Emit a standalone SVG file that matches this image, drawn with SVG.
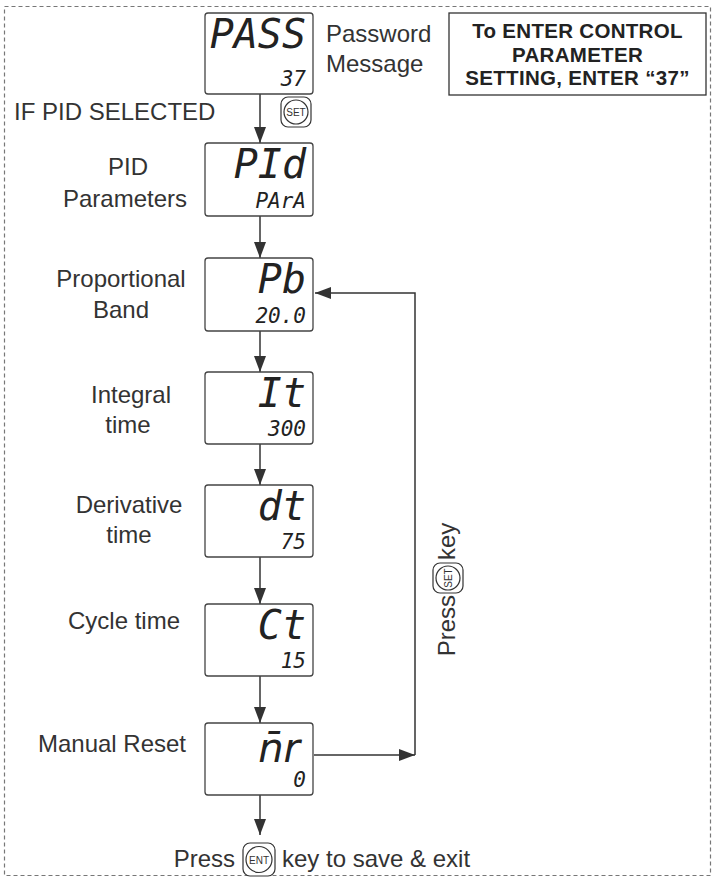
<svg xmlns="http://www.w3.org/2000/svg" width="715" height="879" viewBox="0 0 715 879">
<defs>
<marker id="ah" viewBox="0 0 16 12" refX="16" refY="6" markerWidth="16" markerHeight="12" markerUnits="userSpaceOnUse" orient="auto">
<path d="M0,0 L16,6 L0,12 Z" fill="#333"/>
</marker>
</defs>
<style>
.lbl{font-family:"Liberation Sans",Arial,sans-serif;font-size:24px;fill:#333;text-anchor:middle}
.box{fill:#fff;stroke:#444;stroke-width:1.3}
.seg{font-family:"DejaVu Sans Mono",monospace;fill:#222;text-anchor:end;font-style:oblique}
.big{font-size:40px}
.sm{font-size:21px}
.con{fill:none;stroke:#333;stroke-width:1.5}
.btn{fill:#fff;stroke:#333;stroke-width:1.2}
.bt{font-family:"Liberation Sans",Arial,sans-serif;font-size:10px;fill:#333;text-anchor:middle}
.info{font-family:"Liberation Sans",Arial,sans-serif;font-size:20.5px;font-weight:bold;fill:#222;text-anchor:middle;letter-spacing:0.3px}
</style>
<rect x="4.5" y="6.5" width="706" height="869" fill="none" stroke="#777" stroke-width="1.2" stroke-dasharray="4,3"/>

<g id="connectors">
<path class="con" d="M260,94 V143" marker-end="url(#ah)"/>
<path class="con" d="M260,216 V258" marker-end="url(#ah)"/>
<path class="con" d="M260,331 V372" marker-end="url(#ah)"/>
<path class="con" d="M260,444 V485" marker-end="url(#ah)"/>
<path class="con" d="M260,557 V604" marker-end="url(#ah)"/>
<path class="con" d="M260,676 V723" marker-end="url(#ah)"/>
<path class="con" d="M260,795 V835" marker-end="url(#ah)"/>
<path class="con" d="M314,755 H415" marker-end="url(#ah)"/>
<path class="con" d="M415,755 V293 H315" marker-end="url(#ah)"/>
</g>

<g id="pass">
<rect class="box" x="205" y="13" width="108" height="81" rx="3"/>
<text class="seg big" x="306" y="48">PASS</text>
<text class="seg sm" x="306" y="86">37</text>
<text class="lbl" x="326" y="42" style="text-anchor:start">Password</text>
<text class="lbl" x="326" y="72" style="text-anchor:start">Message</text>
</g>

<g id="info">
<rect x="449" y="13" width="257" height="82" fill="#fff" stroke="#333" stroke-width="1.3"/>
<text class="info" x="577.5" y="38">To ENTER CONTROL</text>
<text class="info" x="577.5" y="61.5">PARAMETER</text>
<text class="info" x="577.5" y="85">SETTING, ENTER “37”</text>
</g>

<g id="if-pid">
<text class="lbl" x="14" y="120" style="text-anchor:start">IF PID SELECTED</text>
<rect class="btn" x="281" y="97" width="30" height="30" rx="7"/>
<circle class="btn" cx="296" cy="112" r="12"/>
<text class="bt" x="296" y="116">SET</text>
</g>

<g id="pid">
<rect class="box" x="205" y="143" width="108" height="73" rx="3"/>
<text class="seg big" x="306" y="178">PId</text>
<text class="seg sm" x="306" y="208">PArA</text>
<text class="lbl" x="128" y="175">PID</text>
<text class="lbl" x="125" y="207">Parameters</text>
</g>

<g id="pb">
<rect class="box" x="205" y="258" width="108" height="73" rx="3"/>
<text class="seg big" x="306" y="293">Pb</text>
<text class="seg sm" x="306" y="323">20.0</text>
<text class="lbl" x="121" y="287">Proportional</text>
<text class="lbl" x="121" y="318">Band</text>
</g>

<g id="it">
<rect class="box" x="205" y="372" width="108" height="72" rx="3"/>
<text class="seg big" x="306" y="407">It</text>
<text class="seg sm" x="306" y="436">300</text>
<text class="lbl" x="131" y="403">Integral</text>
<text class="lbl" x="128" y="433">time</text>
</g>

<g id="dt">
<rect class="box" x="205" y="485" width="108" height="72" rx="3"/>
<text class="seg big" x="306" y="520">dt</text>
<text class="seg sm" x="306" y="549">75</text>
<text class="lbl" x="129" y="513">Derivative</text>
<text class="lbl" x="129" y="543">time</text>
</g>

<g id="ct">
<rect class="box" x="205" y="604" width="108" height="72" rx="3"/>
<text class="seg big" x="306" y="639">Ct</text>
<text class="seg sm" x="306" y="668">15</text>
<text class="lbl" x="124" y="629">Cycle time</text>
</g>

<g id="mr">
<rect class="box" x="205" y="723" width="108" height="72" rx="3"/>
<text class="seg big" x="300" y="762" style="font-family:'DejaVu Sans',sans-serif">n̄r</text>
<text class="seg sm" x="306" y="787">0</text>
<text class="lbl" x="112" y="752">Manual Reset</text>
</g>

<g id="press-set">
<g transform="translate(447,595) rotate(-90)">
<text class="lbl" x="0" y="8" style="text-anchor:end">Press</text>
<rect class="btn" x="2" y="-14" width="30" height="30" rx="7"/>
<circle class="btn" cx="17" cy="1" r="12"/>
<text class="bt" x="17" y="5">SET</text>
<text class="lbl" x="35" y="8" style="text-anchor:start">key</text>
</g>
</g>

<g id="press-ent">
<text class="lbl" x="235" y="867" style="text-anchor:end">Press</text>
<rect class="btn" x="243" y="843" width="32" height="33" rx="7"/>
<circle class="btn" cx="259" cy="859.5" r="13"/>
<text class="bt" x="259" y="863.5">ENT</text>
<text class="lbl" x="282" y="867" style="text-anchor:start">key to save &amp; exit</text>
</g>
</svg>
